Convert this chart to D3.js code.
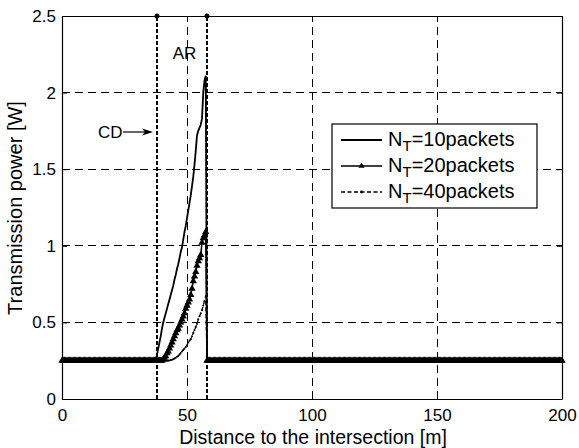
<!DOCTYPE html>
<html>
<head>
<meta charset="utf-8">
<script src="https://cdn.jsdelivr.net/npm/d3@7"></script>
<style>
  body { margin: 0; background: #fff; }
  svg { display: block; }
  text { font-family: "Liberation Sans", Arial, Helvetica, sans-serif; fill: #000; }
</style>
</head>
<body>
<svg id="chart" width="579" height="448"></svg>
<script>
// Axis ticks
const xTicks = [0, 50, 100, 150, 200];
const yTicks = [0, 0.5, 1, 1.5, 2, 2.5];

// Sampling of the distance axis [m]
const sampleStep = 0.5;
const distanceMax = 200;

// Idle transmission power outside the ramp [W]
const idlePower = 0.25;

// Ramp values [W], one per sample, starting at rampStart [m]
const rampStart = 38;
const powerNT10 = [0.29, 0.33, 0.37, 0.41, 0.46, 0.50, 0.53, 0.56, 0.59, 0.62,
                   0.65, 0.68, 0.71, 0.74, 0.78, 0.81, 0.85, 0.88, 0.92, 0.96,
                   0.99, 1.04, 1.09, 1.13, 1.18, 1.23, 1.28, 1.33, 1.39, 1.45,
                   1.53, 1.62, 1.72, 1.75, 1.77, 1.79, 1.83, 2.00, 2.08, 2.11];
const powerNT20 = [0.25, 0.25, 0.25, 0.25, 0.25, 0.26, 0.27, 0.28, 0.30, 0.31,
                   0.33, 0.35, 0.37, 0.39, 0.41, 0.43, 0.45, 0.46, 0.48, 0.50,
                   0.52, 0.54, 0.56, 0.59, 0.61, 0.63, 0.65, 0.68, 0.72, 0.77,
                   0.80, 0.83, 0.87, 0.90, 0.92, 0.94, 1.02, 1.05, 1.07, 1.09];
const powerNT40 = [0.25, 0.25, 0.25, 0.25, 0.25, 0.25, 0.25, 0.25, 0.25, 0.251,
                   0.252, 0.254, 0.256, 0.26, 0.265, 0.27, 0.275, 0.28, 0.29, 0.30,
                   0.31, 0.32, 0.33, 0.34, 0.35, 0.37, 0.38, 0.39, 0.41, 0.43,
                   0.45, 0.47, 0.49, 0.52, 0.54, 0.56, 0.58, 0.61, 0.64, 0.67];

// Series legend numbers (N_T packets)
const packetCounts = ["10", "20", "40"];

// Region boundaries [m]: CD and end of AR
const regionBounds = [38, 58];

const svg = d3.select("#chart");
const plotLeft = 62, plotRight = 562, plotTop = 16, plotBottom = 399;

const x = d3.scaleLinear().domain([0, 200]).range([plotLeft, plotRight]);
const y = d3.scaleLinear().domain([0, 2.5]).range([plotBottom, plotTop]);

const distances = d3.range(0, distanceMax + sampleStep / 2, sampleStep);
function buildSeries(ramp) {
  return distances.map(d => {
    const i = Math.round((d - rampStart) / sampleStep);
    return { d, p: (i >= 0 && i < ramp.length) ? ramp[i] : idlePower };
  });
}
const s10 = buildSeries(powerNT10);
const s20 = buildSeries(powerNT20);
const s40 = buildSeries(powerNT40);

// Grid
const grid = svg.append("g").attr("stroke", "#000").attr("stroke-width", 1)
  .attr("stroke-dasharray", "8,5").attr("shape-rendering", "crispEdges");
grid.selectAll(".gx").data(xTicks.slice(1, -1)).join("line")
  .attr("x1", d => x(d) + 0.5).attr("x2", d => x(d) + 0.5).attr("y1", plotBottom).attr("y2", plotTop);
grid.selectAll(".gy").data(yTicks.slice(1, -1)).join("line")
  .attr("y1", d => y(d)).attr("y2", d => y(d)).attr("x1", plotLeft).attr("x2", plotRight);

// Region boundary lines
const bounds = svg.append("g");
bounds.selectAll("line").data(regionBounds).join("line")
  .attr("x1", d => x(d)).attr("x2", d => x(d))
  .attr("y1", y(0)).attr("y2", y(2.5))
  .attr("stroke", "#000").attr("stroke-width", 2).attr("stroke-dasharray", "4,2")
  .attr("shape-rendering", "crispEdges");
bounds.selectAll("circle").data(regionBounds).join("circle")
  .attr("cx", d => x(d)).attr("cy", y(2.5)).attr("r", 2.5).attr("fill", "#000");

// Series lines
const line = d3.line().x(v => x(v.d)).y(v => y(v.p));
svg.append("path").datum(s40).attr("d", line).attr("fill", "none")
  .attr("stroke", "#000").attr("stroke-width", 1.3).attr("stroke-dasharray", "4,2.5");
svg.append("path").datum(s20).attr("d", line).attr("fill", "none")
  .attr("stroke", "#000").attr("stroke-width", 1.5);
svg.append("path").datum(s10).attr("d", line).attr("fill", "none")
  .attr("stroke", "#000").attr("stroke-width", 1.8);

// Markers
const tri = d3.symbol().type(d3.symbolTriangle).size(23);
svg.append("g").selectAll("path").data(s20).join("path")
  .attr("d", tri).attr("transform", v => `translate(${x(v.d)},${y(v.p)})`).attr("fill", "#000");
svg.append("g").selectAll("circle").data(s40).join("circle")
  .attr("cx", v => x(v.d)).attr("cy", v => y(v.p)).attr("r", 1.0).attr("fill", "#000");

// Axes (ticks inside, box on all sides)
const fmt = d => String(d);
const ax = svg.append("g").style("font-size", "17px");
ax.append("g").attr("transform", `translate(0,${plotBottom})`)
  .call(d3.axisBottom(x).tickValues(xTicks).tickFormat(fmt).tickSizeInner(-5).tickSizeOuter(0).tickPadding(10));
ax.append("g").attr("transform", `translate(0,${plotTop})`)
  .call(d3.axisTop(x).tickValues(xTicks).tickFormat("").tickSizeInner(-5).tickSizeOuter(0));
ax.append("g").attr("transform", `translate(${plotLeft},0)`)
  .call(d3.axisLeft(y).tickValues(yTicks).tickFormat(fmt).tickSizeInner(-5).tickSizeOuter(0).tickPadding(6));
ax.append("g").attr("transform", `translate(${plotRight},0)`)
  .call(d3.axisRight(y).tickValues(yTicks).tickFormat("").tickSizeInner(-5).tickSizeOuter(0));
ax.selectAll(".domain").attr("stroke", "#000").attr("stroke-width", 1.2);
ax.selectAll(".tick line").attr("stroke", "#000");
ax.selectAll("g").attr("font-family", null).attr("font-size", null);

// Axis titles
svg.append("text").attr("x", 313).attr("y", 444).attr("text-anchor", "middle")
  .style("font-size", "19.5px").text("Distance to the intersection [m]");
svg.append("text").attr("transform", "translate(22,208) rotate(-90)").attr("text-anchor", "middle")
  .style("font-size", "20px").text("Transmission power [W]");

// Annotations
svg.append("text").attr("x", x(49)).attr("y", 59).attr("text-anchor", "middle")
  .style("font-size", "17px").text("AR");
const cdY = 132, tipX = x(regionBounds[0]) - 4;
svg.append("text").attr("x", 98).attr("y", cdY + 6).style("font-size", "17px").text("CD");
svg.append("line").attr("x1", 123).attr("x2", tipX - 6).attr("y1", cdY).attr("y2", cdY)
  .attr("stroke", "#000").attr("stroke-width", 1.2);
svg.append("path").attr("d", `M${tipX},${cdY} L${tipX - 11},${cdY - 3.5} L${tipX - 8},${cdY} L${tipX - 11},${cdY + 3.5} Z`)
  .attr("fill", "#000");

// Legend
const lg = svg.append("g");
lg.append("rect").attr("x", 332).attr("y", 124).attr("width", 205).attr("height", 84)
  .attr("fill", "#fff").attr("stroke", "#000").attr("stroke-width", 1.2);
const rowY = [140, 166, 192];
const styles = [
  { w: 1.8, dash: null, marker: null },
  { w: 1.5, dash: null, marker: "tri" },
  { w: 1.3, dash: "4,2.5", marker: "dot" }
];
const legendTri = d3.symbol().type(d3.symbolTriangle).size(16);
packetCounts.forEach((n, i) => {
  const ry = rowY[i], st = styles[i];
  lg.append("line").attr("x1", 341).attr("x2", 382).attr("y1", ry).attr("y2", ry)
    .attr("stroke", "#000").attr("stroke-width", st.w).attr("stroke-dasharray", st.dash);
  if (st.marker === "tri")
    lg.append("path").attr("d", legendTri).attr("transform", `translate(361.5,${ry})`).attr("fill", "#000");
  if (st.marker === "dot")
    lg.append("circle").attr("cx", 361.5).attr("cy", ry).attr("r", 1.4).attr("fill", "#000");
  const t = lg.append("text").attr("x", 388).attr("y", ry + 6).style("font-size", "20px");
  t.append("tspan").text("N");
  t.append("tspan").attr("dy", 5).style("font-size", "15px").text("T");
  t.append("tspan").attr("dy", -5).text("=" + n + "packets");
});
</script>
</body>
</html>
